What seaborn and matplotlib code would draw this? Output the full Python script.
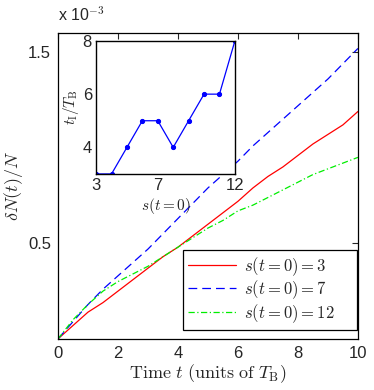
import numpy as np
import pandas as pd
import matplotlib
matplotlib.use("Agg")
import matplotlib.pyplot as plt
import seaborn as sns

# ── Data (values in units of 1e-3) ──
t = [0, 0.5, 1, 1.5, 2, 2.5, 3, 3.5, 4, 4.5, 5, 5.5, 6, 6.5, 7, 7.5, 8, 8.5, 9, 9.5, 10]
dn_s3 = [0, 0.07, 0.14, 0.19, 0.25, 0.31, 0.37, 0.43, 0.48, 0.54, 0.60,
         0.66, 0.72, 0.79, 0.85, 0.90, 0.96, 1.02, 1.07, 1.12, 1.19]
dn_s7 = [0, 0.09, 0.18, 0.26, 0.33, 0.40, 0.47, 0.55, 0.63, 0.71, 0.79,
         0.86, 0.93, 1.01, 1.08, 1.15, 1.22, 1.29, 1.36, 1.44, 1.52]
dn_s12 = [0, 0.10, 0.18, 0.25, 0.30, 0.34, 0.38, 0.43, 0.48, 0.53, 0.58,
          0.62, 0.67, 0.70, 0.74, 0.78, 0.82, 0.86, 0.89, 0.92, 0.95]

s0 = [3, 4, 5, 6, 7, 8, 9, 10, 11, 12]
tI = [3, 3, 4, 5, 5, 4, 5, 6, 6, 8]

sns.set_style("white")
plt.rcParams["mathtext.fontset"] = "cm"
plt.rcParams["font.family"] = ["Liberation Sans", "DejaVu Sans"]

fig = plt.figure(figsize=(3.74, 3.90), dpi=100)
ax = fig.add_axes([0.155, 0.131, 0.802, 0.784])

series = [
    (dn_s3, r"$s(t=0)=3$", "#ff0000", None),
    (dn_s7, r"$s(t=0)=7$", "#0000ff", (7, 4)),
    (dn_s12, r"$s(t=0)=12$", "#00ee00", (5, 2, 1, 2)),
]
for vals, lab, col, dash in series:
    df = pd.DataFrame({"t": t, "dn": vals})
    sns.lineplot(data=df, x="t", y="dn", ax=ax, color=col, lw=0.9, label=lab)
    if dash is not None:
        ax.lines[-1].set_dashes(dash)

ax.set_xlim(0, 10)
ax.set_ylim(0, 1.6)
ax.set_xticks([0, 2, 4, 6, 8, 10])
ax.set_yticks([0.5, 1.5])
ax.set_yticklabels(["0.5", "1.5"])
ax.tick_params(direction="in", top=True, right=True, labelsize=12, length=4, width=0.8, pad=5)
for sp in ax.spines.values():
    sp.set_color("black")
    sp.set_linewidth(0.9)
ax.set_xlabel(r"$\mathrm{Time}\ t\ (\mathrm{units\ of}\ T_{\mathrm{B}})$", fontsize=13, labelpad=1)
ax.set_ylabel(r"$\delta N(t)/N$", fontsize=13, labelpad=2)
ax.text(0.0, 1.04, r"x 10$^{-3}$", transform=ax.transAxes, fontsize=11.5, ha="left")

leg = ax.legend(loc="lower left", bbox_to_anchor=(0.417, 0.03, 0.58, 0.25), mode="expand",
                borderaxespad=0, fontsize=12, handlelength=2.9, handletextpad=0.45,
                fancybox=False, framealpha=1, edgecolor="black", borderpad=0.3,
                labelspacing=0.05)
leg.get_frame().set_linewidth(0.9)

# ── Inset ──
axi = fig.add_axes([0.257, 0.554, 0.371, 0.341])
sns.lineplot(x=s0, y=tI, ax=axi, color="#0000ff", lw=0.9, marker="o", markersize=3,
             markeredgecolor="#0000ff")
axi.set_xlim(3, 12)
axi.set_ylim(3, 8)
axi.set_xticks([3, 7, 12])
axi.set_yticks([4, 6, 8])
axi.tick_params(direction="in", labelsize=12, length=3, width=0.8, pad=3)
for sp in axi.spines.values():
    sp.set_color("black")
    sp.set_linewidth(1.0)
axi.set_xlabel(r"$s(t=0)$", fontsize=11, labelpad=2)
axi.set_ylabel(r"$t_{\mathrm{I}}/T_{\mathrm{B}}$", fontsize=11, labelpad=1)

plt.savefig("out.png", dpi=100)
plt.close()
